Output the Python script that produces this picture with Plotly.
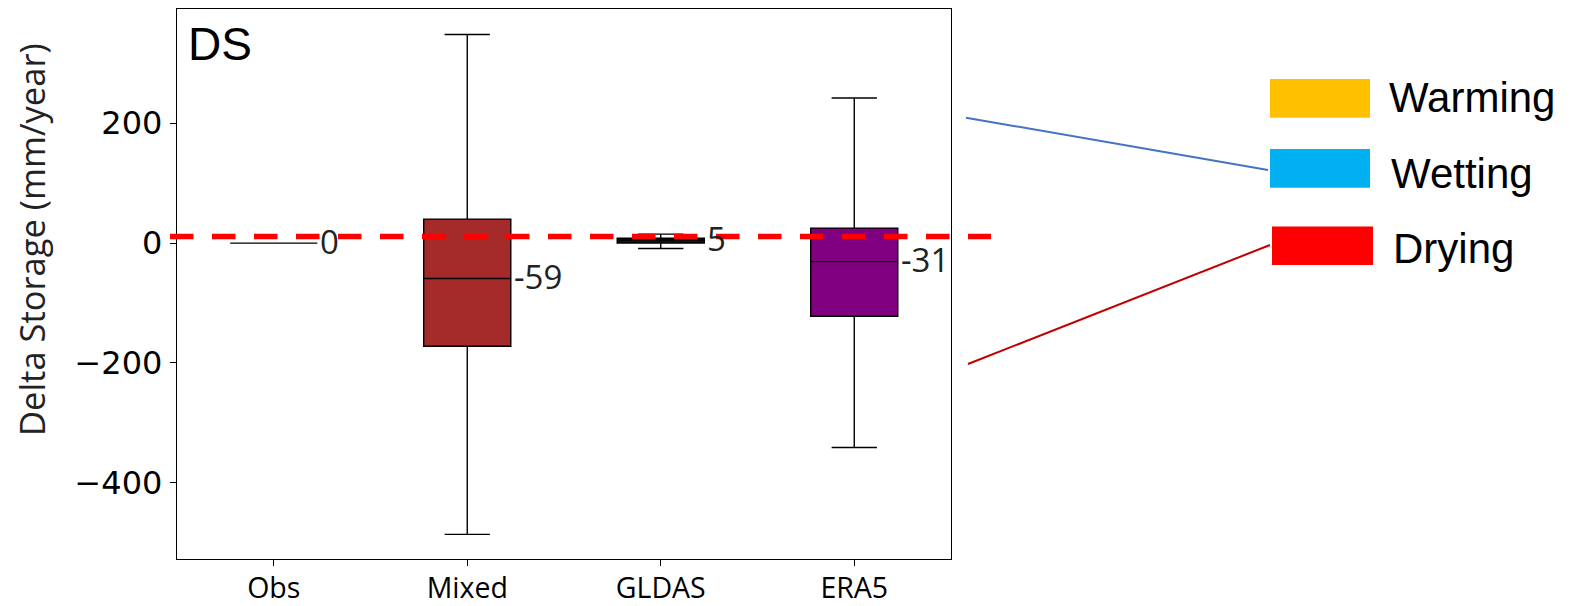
import plotly.graph_objects as go

# ---- data ----
categories = ["Obs", "Mixed", "GLDAS", "ERA5"]
q1 = [0, -172, 0, -122]
medians = [0, -59, 5, -31]
q3 = [0, 40, 8, 25]
lower_whisker = [0, -486, -9, -341]
upper_whisker = [0, 348, 15, 242]
box_colors = ["#FFFFFF", "#A52A2A", "#111111", "#800080"]
threshold = 11
y_ticks = [-400, -200, 0, 200]
y_ticktext = ["\u2212400", "\u2212200", "0", "200"]
legend_labels = ["Warming", "Wetting", "Drying"]
legend_colors = ["#FFC000", "#00B0F0", "#FF0000"]

# screen geometry (page body has an 8px default margin)
OFF = 8
W, H = 1586, 606
L, R, T, B = 177, 951, 9, 559


def px(x):
    return (x - L) / (R - L)


def py(y):
    return (B - y) / (B - T)


FW, FH = W - OFF, H - OFF

fig = go.Figure()
box_w = 0.45
for i, cat in enumerate(categories):
    fig.add_trace(go.Box(
        x=[i], q1=[q1[i]], median=[medians[i]], q3=[q3[i]],
        lowerfence=[lower_whisker[i]], upperfence=[upper_whisker[i]],
        width=box_w, whiskerwidth=0.52, fillcolor=box_colors[i],
        line=dict(color="black", width=1.4), boxpoints=False,
        showlegend=False, hoverinfo="skip", name=cat,
    ))
    fig.add_annotation(
        x=i + box_w / 2, y=medians[i], xref="x", yref="y",
        text=str(medians[i]), showarrow=False, xanchor="left", yanchor="middle",
        xshift=1, yshift=2,
        font=dict(family="Open Sans", size=33, color="#222222"),
    )

shapes = []
shapes.append(dict(type="line", xref="paper", yref="y", x0=px(170), x1=px(991),
                   y0=threshold, y1=threshold, layer="above",
                   line=dict(color="#FF0000", width=5.5, dash="23.5px,18.5px")))
shapes.append(dict(type="line", xref="paper", yref="paper", x0=px(966), y0=py(117.7),
                   x1=px(1268), y1=py(170), line=dict(color="#4472C4", width=2)))
shapes.append(dict(type="line", xref="paper", yref="paper", x0=px(968), y0=py(364),
                   x1=px(1270), y1=py(245), line=dict(color="#C00000", width=2)))
rects = [(1270, 79, 1370, 117.7), (1270, 149, 1370, 187.7), (1272, 226.5, 1373, 265)]
text_pos = [(1387, 95.8), (1389, 171.7), (1391, 246.7)]
for (x0, y0, x1, y1), col in zip(rects, legend_colors):
    shapes.append(dict(type="rect", xref="paper", yref="paper", x0=px(x0), x1=px(x1),
                       y0=py(y1), y1=py(y0), fillcolor=col, line=dict(width=0)))
for (tx, ty), lab in zip(text_pos, legend_labels):
    fig.add_annotation(x=px(tx), y=py(ty), xref="paper", yref="paper", text=lab,
                       showarrow=False, xanchor="left", yanchor="middle", yshift=-2,
                       font=dict(family="Liberation Sans", size=42, color="black"))

fig.add_annotation(x=px(186), y=py(45.5), xref="paper", yref="paper", text="DS",
                   showarrow=False, xanchor="left", yanchor="middle", yshift=2,
                   font=dict(family="Liberation Sans", size=46, color="black"))
fig.add_annotation(x=px(31), y=py(240), xref="paper", yref="paper",
                   text="Delta Storage (mm/year)", textangle=-90, showarrow=False,
                   xanchor="center", yanchor="middle",
                   font=dict(family="Open Sans", size=34.5, color="#222222"))

fig.update_layout(
    width=FW, height=FH, autosize=False,
    margin=dict(l=L - OFF, r=FW - (R - OFF), t=T - OFF, b=FH - (B - OFF), pad=0,
                autoexpand=False),
    paper_bgcolor="white", plot_bgcolor="white",
    boxmode="overlay", shapes=shapes, showlegend=False,
)
fig.update_xaxes(
    range=[-0.5, 3.5], tickvals=list(range(len(categories))), ticktext=categories,
    showline=True, mirror=True, linecolor="black", linewidth=1.3,
    ticks="outside", ticklen=6, tickcolor="black", tickwidth=1.3,
    showgrid=False, zeroline=False, ticklabelstandoff=-2, automargin=False,
    tickfont=dict(family="Open Sans", size=28.5, color="black"),
)
fig.update_yaxes(
    range=[-527, 390.5], tickvals=y_ticks, ticktext=y_ticktext,
    showline=True, mirror=True, linecolor="black", linewidth=1.3,
    ticks="outside", ticklen=6, tickcolor="black", tickwidth=1.3,
    showgrid=False, zeroline=False, ticklabelstandoff=1, automargin=False,
    tickfont=dict(family="DejaVu Sans", size=32, color="black"),
)

fig.write_html("out.html")
